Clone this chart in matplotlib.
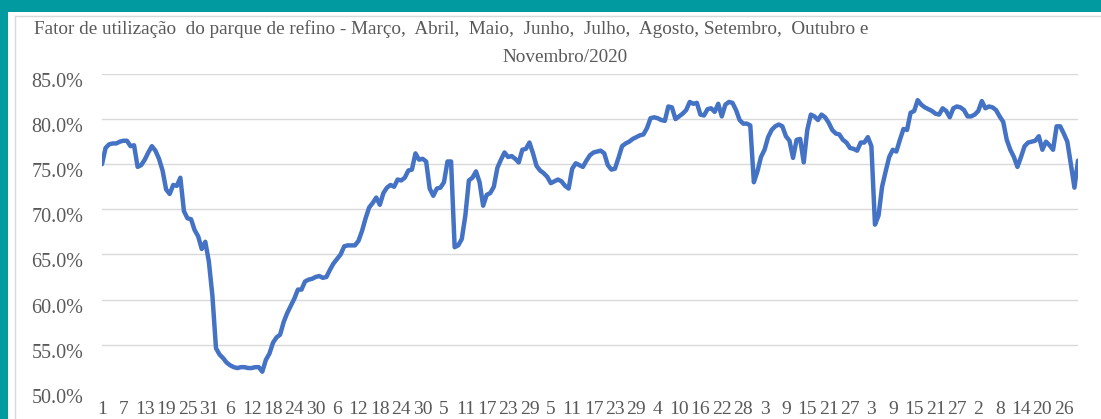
import matplotlib.pyplot as plt
import matplotlib.transforms as mtransforms
from matplotlib.patches import Rectangle
from matplotlib.lines import Line2D
from matplotlib.ticker import FormatStrFormatter

# daily utilisation factor (%), 1 Mar .. 30 Nov 2020
mar = [75.0, 76.8, 77.2, 77.3, 77.3, 77.5, 77.6, 77.6, 77.0, 77.1, 74.7, 74.9, 75.5, 76.3, 77.0, 76.5,
       75.6, 74.3, 72.2, 71.7, 72.7, 72.6, 73.5, 69.8, 69.0, 68.9, 67.7, 67.0, 65.6, 66.4, 64.2]
apr = [60.4, 54.6, 53.9, 53.5, 53.0, 52.7, 52.5, 52.4, 52.5, 52.5, 52.4, 52.4, 52.5, 52.5, 52.0,
       53.3, 54.0, 55.2, 55.8, 56.1, 57.5, 58.5, 59.3, 60.1, 61.1, 61.1, 62.0, 62.2, 62.3, 62.5]
may = [62.6, 62.4, 62.5, 63.3, 64.0, 64.5, 65.0, 65.9, 66.0, 66.0, 66.0, 66.5, 67.6, 69.0, 70.2, 70.7,
       71.3, 70.5, 71.8, 72.4, 72.7, 72.5, 73.3, 73.2, 73.5, 74.3, 74.4, 76.2, 75.5, 75.6, 75.3]
jun = [72.3, 71.5, 72.3, 72.4, 73.0, 75.3, 75.3, 65.8, 66.0, 66.7, 69.3, 73.2, 73.5, 74.2, 73.0,
       70.4, 71.6, 71.8, 72.5, 74.6, 75.5, 76.3, 75.8, 75.9, 75.6, 75.2, 76.6, 76.7, 77.4, 76.2]
jul = [74.8, 74.3, 74.0, 73.6, 72.9, 73.1, 73.3, 73.1, 72.6, 72.3, 74.5, 75.1, 74.9, 74.7, 75.4, 76.0,
       76.3, 76.4, 76.5, 76.2, 74.9, 74.4, 74.5, 75.7, 77.0, 77.3, 77.5, 77.8, 78.0, 78.2, 78.3]
aug = [79.0, 80.1, 80.2, 80.1, 79.9, 79.8, 81.4, 81.3, 80.0, 80.3, 80.6, 81.0, 81.9, 81.7, 81.8, 80.5,
       80.4, 81.1, 81.2, 80.8, 81.7, 80.3, 81.6, 81.9, 81.8, 81.0, 79.9, 79.5, 79.5, 79.3, 73.0]
sep = [74.2, 75.8, 76.6, 78.0, 78.8, 79.2, 79.4, 79.2, 78.1, 77.6, 75.7, 77.7, 77.8, 75.2, 78.8,
       80.5, 80.3, 79.9, 80.5, 80.2, 79.6, 78.8, 78.4, 78.3, 77.7, 77.4, 76.8, 76.7, 76.5, 77.4]
oct_ = [77.4, 78.0, 77.0, 68.3, 69.3, 72.5, 74.2, 75.8, 76.6, 76.4, 77.7, 78.9, 78.8, 80.7, 80.9, 82.1,
        81.6, 81.3, 81.1, 80.9, 80.6, 80.5, 81.2, 80.9, 80.2, 81.2, 81.4, 81.3, 81.0, 80.3, 80.3]
nov = [80.5, 80.9, 82.0, 81.2, 81.4, 81.3, 81.0, 80.3, 79.7, 77.7, 76.6, 75.8, 74.7, 75.8, 77.0,
       77.4, 77.5, 77.6, 78.1, 76.6, 77.5, 77.1, 76.6, 79.2, 79.2, 78.4, 77.5, 75.0, 72.4, 75.4]

values = mar + apr + may + jun + jul + aug + sep + oct_ + nov
days = list(range(len(values)))

tick_labels = ["1", "7", "13", "19", "25", "31",
               "6", "12", "18", "24", "30",
               "6", "12", "18", "24", "30",
               "5", "11", "17", "23", "29",
               "5", "11", "17", "23", "29",
               "4", "10", "16", "22", "28",
               "3", "9", "15", "21", "27",
               "3", "9", "15", "21", "27",
               "2", "8", "14", "20", "26"]
tick_pos = [i * 6 for i in range(len(tick_labels))]

title1 = "Fator de utilização  do parque de refino - Março,  Abril,  Maio,  Junho,  Julho,  Agosto, Setembro,  Outubro e"
title2 = "Novembro/2020"

plt.rcParams['font.family'] = ['Liberation Serif', 'DejaVu Serif']
W, H = 1101, 419
fig = plt.figure(figsize=(W / 100, H / 100), dpi=100)
fig.patch.set_facecolor('white')

teal = '#009aa0'
fig.add_artist(Rectangle((0, 1 - 12 / H), 1, 12 / H, transform=fig.transFigure, color=teal, lw=0))
fig.add_artist(Rectangle((0, 0), 8 / W, 1, transform=fig.transFigure, color=teal, lw=0))
fig.add_artist(Line2D([15 / W, 15 / W], [0, 1 - 16 / H], transform=fig.transFigure, color='#d9d9d9', lw=1))
fig.add_artist(Line2D([15 / W, 1], [1 - 16 / H, 1 - 16 / H], transform=fig.transFigure, color='#d9d9d9', lw=1))

left, right, top, bottom = 102, 1078, 74, 389.7
ax = fig.add_axes([left / W, 1 - bottom / H, (right - left) / W, (bottom - top) / H])
ax.plot(days, values, color='#4472C4', lw=3.2, solid_joinstyle='round', solid_capstyle='round')

ax.set_xlim(0, len(values) - 1)
ax.set_ylim(50, 85)
ax.set_yticks([50, 55, 60, 65, 70, 75, 80, 85])
ax.yaxis.set_major_formatter(FormatStrFormatter('%.1f%%'))
ax.set_xticks(tick_pos)
ax.set_xticklabels(tick_labels)

for s in ax.spines.values():
    s.set_visible(False)
ax.yaxis.grid(True, color='#d9d9d9', lw=1)
ax.get_ygridlines()[0].set_visible(False)
ax.set_axisbelow(True)
ax.tick_params(axis='y', length=0, pad=13.5, labelsize=14.5, labelcolor='#595959')
ax.tick_params(axis='x', length=0, pad=8, labelsize=14, labelcolor='#595959')

off = mtransforms.ScaledTranslation(0, -0.06, fig.dpi_scale_trans)
for lbl in ax.get_yticklabels():
    lbl.set_transform(lbl.get_transform() + off)

fig.text(451 / W, 1 - 29 / H, title1, ha='center', va='center', fontsize=13.8, color='#595959')
fig.text(565 / W, 1 - 58 / H, title2, ha='center', va='center', fontsize=13.8, color='#595959')

fig.savefig('out.png', dpi=100)
